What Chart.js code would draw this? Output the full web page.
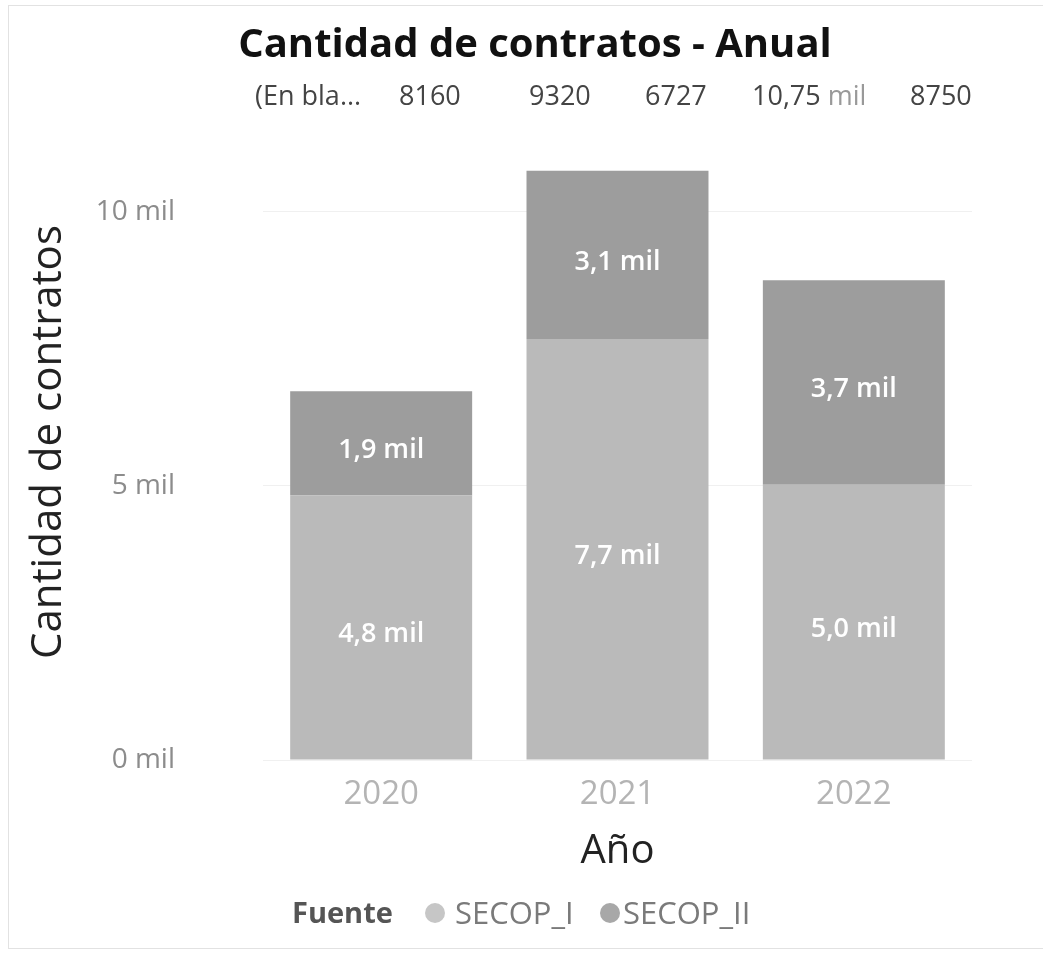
<!DOCTYPE html>
<html lang="es">
<head>
<meta charset="utf-8">
<title>Cantidad de contratos - Anual</title>
<script src="https://cdn.jsdelivr.net/npm/chart.js@4.4.1/dist/chart.umd.min.js"></script>
<style>
  html, body { margin: 0; padding: 0; background: #fff; }
  .card { position: relative; width: 1043px; height: 955px; overflow: hidden; font-family: 'Open Sans', sans-serif; }
  .frame { position: absolute; left: 8px; top: 5px; right: -2px; bottom: 6px; border: 1px solid #e2e2e2; }
  #chart { position: absolute; left: 0; top: 0; }
  .title { position: absolute; left: 0; top: 18px; width: 1070px; text-align: center; line-height: 48px;
           font-size: 40px; font-weight: 700; color: #111; }
  .ytitle { position: absolute; left: -205px; top: 417px; width: 500px; line-height: 50px; text-align: center;
            font-size: 42px; color: #222; transform: rotate(-90deg); white-space: nowrap; }
  .head span { position: absolute; top: 79px; line-height: 32px; font-size: 27px; color: #444; white-space: nowrap; }
  .head em { font-style: normal; color: #999; }
  .legend span { position: absolute; top: 893px; line-height: 38px; white-space: nowrap; }
  .legend .ttl { color: #555; font-weight: 700; font-size: 29px; }
  .legend .nm { color: #7a7a7a; font-size: 31px; }
  .legend i { position: absolute; top: 903px; width: 20px; height: 20px; border-radius: 50%; }
</style>
</head>
<body>
<div class="card">
  <div class="frame"></div>
  <canvas id="chart" width="1043" height="955"></canvas>
  <div class="title">Cantidad de contratos - Anual</div>
  <div class="ytitle">Cantidad de contratos</div>
  <div class="head" id="head"></div>
  <div class="legend" id="legend"></div>
</div>
<script>
/* ---------- data ---------- */
var years = ['2020', '2021', '2022'];
var secopI = [4830, 7680, 5020];
var secopII = [1897, 3070, 3730];
var seriesNames = ['SECOP_I', 'SECOP_II'];
var seriesColors = ['#bababa', '#9d9d9d'];
var legendDots = ['#c6c6c6', '#a8a8a8'];
var yTicks = [0, 5000, 10000];
/* header strip of the visual: slicer-like totals row */
var headLabels = ['(En bla...', '8160', '9320', '6727', '10,75 mil', '8750'];

function milFmt(v, dec) {
  return (v / 1000).toFixed(dec).replace('.', ',') + ' mil';
}

/* header row + legend (HTML, positioned like the original visual) */
(function () {
  var xs = [255, 399, 529, 645, 752, 910];
  var head = document.getElementById('head');
  headLabels.forEach(function (t, i) {
    var s = document.createElement('span');
    s.style.left = xs[i] + 'px';
    var m = / mil$/.exec(t);
    if (m) {
      s.appendChild(document.createTextNode(t.slice(0, m.index) + ' '));
      var em = document.createElement('em');
      em.textContent = 'mil';
      s.appendChild(em);
    } else {
      s.textContent = t;
    }
    head.appendChild(s);
  });

  var lg = document.getElementById('legend');
  var ttl = document.createElement('span');
  ttl.className = 'ttl';
  ttl.style.left = '292px';
  ttl.textContent = 'Fuente';
  lg.appendChild(ttl);
  var dotX = [425, 600], txtX = [455, 623];
  seriesNames.forEach(function (n, i) {
    var d = document.createElement('i');
    d.style.left = dotX[i] + 'px';
    d.style.background = legendDots[i];
    lg.appendChild(d);
    var s = document.createElement('span');
    s.className = 'nm';
    s.style.left = txtX[i] + 'px';
    s.textContent = n;
    lg.appendChild(s);
  });
})();

/* white value labels centred in each stacked segment */
var segLabels = {
  id: 'segLabels',
  afterDatasetsDraw: function (chart) {
    var ctx = chart.ctx;
    ctx.save();
    ctx.fillStyle = '#ffffff';
    ctx.font = "600 27px 'Open Sans', sans-serif";
    ctx.textAlign = 'center';
    ctx.textBaseline = 'middle';
    chart.data.datasets.forEach(function (ds, di) {
      chart.getDatasetMeta(di).data.forEach(function (bar, i) {
        var p = bar.getProps(['x', 'y', 'base'], true);
        ctx.fillText(milFmt(ds.data[i], 1), p.x, (p.y + p.base) / 2 + 7);
      });
    });
    ctx.restore();
  }
};

new Chart(document.getElementById('chart'), {
  type: 'bar',
  data: {
    labels: years,
    datasets: [
      { label: seriesNames[0], data: secopI, backgroundColor: seriesColors[0] },
      { label: seriesNames[1], data: secopII, backgroundColor: seriesColors[1] }
    ]
  },
  options: {
    responsive: false,
    animation: false,
    layout: { padding: { left: 20, right: 71, top: 157, bottom: 79 } },
    barPercentage: 0.77,
    categoryPercentage: 1,
    plugins: { legend: { display: false }, tooltip: { enabled: false } },
    scales: {
      x: {
        stacked: true,
        afterFit: function (s) { s.height = 116; },
        grid: { display: false, drawTicks: false },
        border: { display: false },
        ticks: { color: '#b4b4b4', padding: 15, font: { family: 'Open Sans', size: 33 } },
        title: { display: true, text: 'Año', color: '#222', padding: 0,
                 font: { family: 'Open Sans', size: 40 } }
      },
      y: {
        stacked: true,
        min: 0, max: 11000,
        afterBuildTicks: function (s) { s.ticks = yTicks.map(function (v) { return { value: v }; }); },
        afterFit: function (s) { s.width = 243; },
        grid: { color: '#f0f0f0', drawTicks: false },
        border: { display: false },
        ticks: { color: '#8c8c8c', padding: 88, font: { family: 'Open Sans', size: 28 },
                 callback: function (v) { return milFmt(v, 0); } }
      }
    }
  },
  plugins: [segLabels]
});
</script>
</body>
</html>
